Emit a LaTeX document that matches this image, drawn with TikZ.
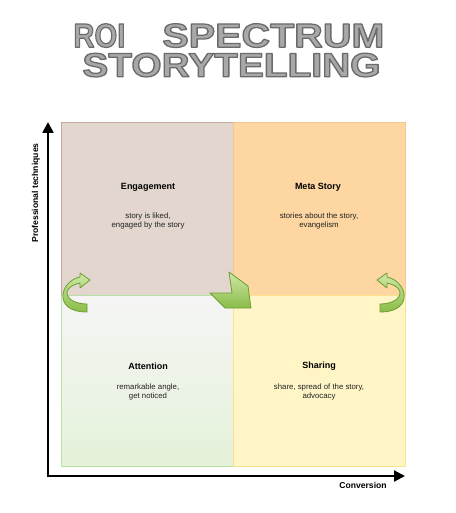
\documentclass[tikz,border=0pt]{standalone}
\usepackage{fontspec}
\setmainfont{Liberation Sans}
\usetikzlibrary{arrows.meta,positioning}

\definecolor{engfill}{RGB}{226,214,206}
\definecolor{engline}{RGB}{196,170,152}
\definecolor{metafill}{RGB}{253,214,161}
\definecolor{metaline}{RGB}{244,200,140}
\definecolor{attntop}{RGB}{245,245,245}
\definecolor{attnbot}{RGB}{229,242,218}
\definecolor{attnline}{RGB}{185,224,165}
\definecolor{sharefill}{RGB}{255,245,199}
\definecolor{shareline}{RGB}{253,226,140}
\definecolor{arrowtop}{RGB}{208,232,168}
\definecolor{arrowbot}{RGB}{138,188,72}
\definecolor{arrowline}{RGB}{108,158,48}
\definecolor{titlefill}{RGB}{168,168,168}
\definecolor{bodytext}{RGB}{34,34,34}

% gray letters with a darker contour
\newcommand{\outlined}[3]{\resizebox{#1}{#2}{\special{pdf:literal direct 2 Tr 0.42 G 1.2 w 1 j}#3\special{pdf:literal direct 0 Tr}}}

\tikzset{
  quad/.style={draw, line width=0.8pt, minimum width=172pt, anchor=north west, inner sep=0pt},
  head/.style={font=\fontsize{9}{11}\selectfont\bfseries, inner sep=0pt},
  body/.style={font=\fontsize{7.8}{9.4}\selectfont, text=bodytext, align=center, inner sep=0pt},
  axislabel/.style={font=\fontsize{8.6}{10}\selectfont\bfseries, inner sep=0pt},
  greenarrow/.style={draw=arrowline, line width=0.8pt, top color=arrowtop, bottom color=arrowbot, line join=round},
  titletext/.style={inner sep=0pt, text=titlefill, align=left, font=\fontsize{32.8}{29.5}\selectfont\bfseries}
}

\begin{document}
\begin{tikzpicture}[x=1pt, y=-1pt, line width=0.8pt]
    \useasboundingbox (0,0) rectangle (455,513);

    % Title
    \node[titletext, anchor=north west] (title) at (73,23.25)
        {\outlined{52pt}{23.5pt}{ROI}\hspace{37pt}\outlined{222pt}{23.5pt}{SPECTRUM}\\
         \hspace*{9pt}\outlined{298pt}{23.5pt}{STORYTELLING}};

    % Quadrants
    \node[quad, minimum height=173pt, fill=engfill, draw=engline] (engbox) at (61,122) {};
    \node[quad, minimum height=173pt, fill=metafill, draw=metaline] (metabox) at (233,122) {};
    \node[quad, minimum height=171pt, top color=attntop, bottom color=attnbot, draw=attnline] (attnbox) at (61,295) {};
    \node[quad, minimum height=171pt, fill=sharefill, draw=shareline] (sharebox) at (233,295) {};

    % Quadrant texts
    \node[head] (eng) at (148,187) {Engagement};
    \node[body] (engtext) at (148,221) {story is liked,\\engaged by the story};
    \node[head] (meta) at (318,187) {Meta Story};
    \node[body] (metatext) at (319,221) {stories about the story,\\evangelism};
    \node[head] (attn) at (148,366) {Attention};
    \node[body] (attntext) at (148,392) {remarkable angle,\\get noticed};
    \node[head] (share) at (319,366) {Sharing};
    \node[body] (sharetext) at (319,392) {share, spread of the story,\\advocacy};

    % Green arrows
    \path[greenarrow] (87,312) -- (87,304) .. controls (66,304) and (58,288) .. (80,283)
        -- (80,288) -- (90,280) -- (80,273) -- (80,277)
        .. controls (60,281) and (52,312) .. (87,312) -- cycle;
    \begin{scope}[xshift=467pt, xscale=-1]
        \path[greenarrow] (87,312) -- (87,304) .. controls (66,304) and (58,288) .. (80,283)
            -- (80,288) -- (90,280) -- (80,273) -- (80,277)
            .. controls (60,281) and (52,312) .. (87,312) -- cycle;
    \end{scope}
    \path[greenarrow] (229,272) -- (248,286) -- (251,308) -- (225,308) -- (210,293) -- (232,293) -- cycle;

    % Axes
    \coordinate (origin) at (48,476);
    \coordinate (ytip) at (48,122);
    \coordinate (xtip) at (405,476);
    \draw[{Triangle[length=11pt,width=11pt]}-{Triangle[length=11pt,width=11pt]}, line width=2.2pt] (ytip) -- (origin) -- (xtip);
    \node[axislabel, rotate=90] (ylab) at (36,193) {Professional techniques};
    \node[axislabel] (xlab) at (363,485) {Conversion};
\end{tikzpicture}
\end{document}
